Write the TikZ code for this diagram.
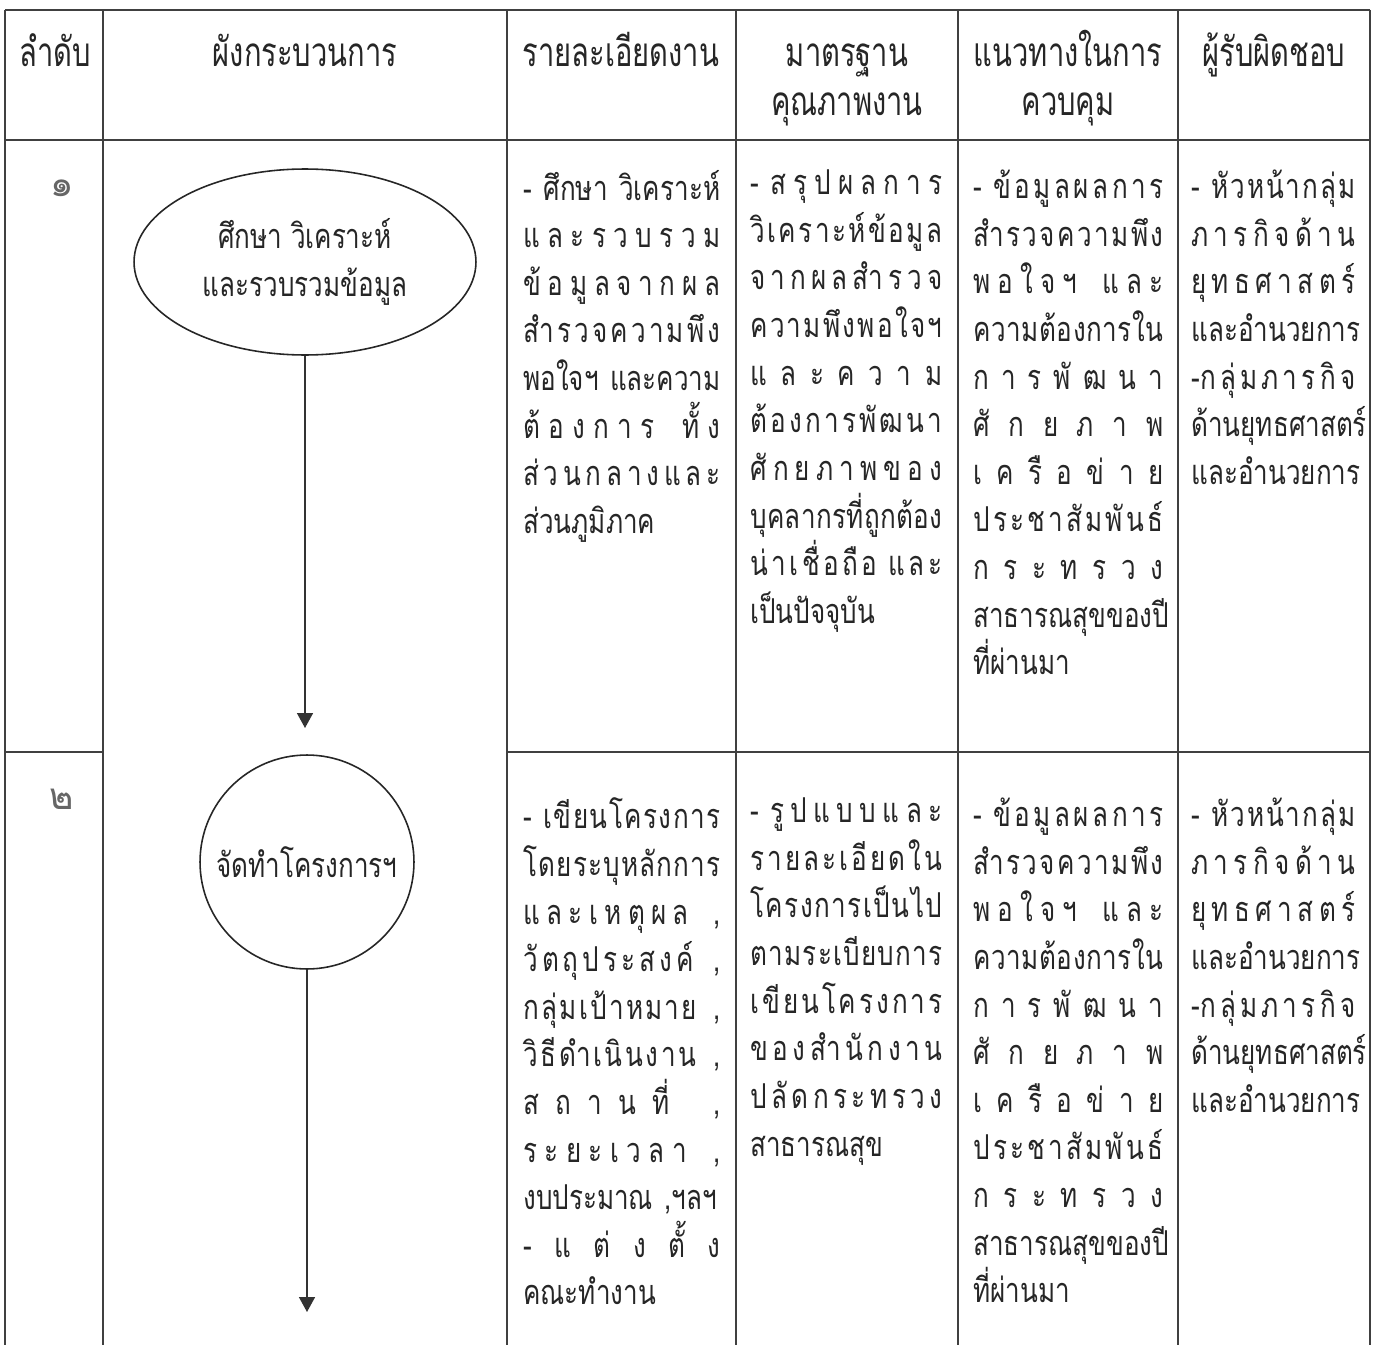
\documentclass[tikz,border=0pt]{standalone}
\usepackage{fontspec}
\usetikzlibrary{arrows.meta,shapes.geometric}
\newfontfamily\thai[Script=Thai,FakeStretch=0.76]{Loma}
\newfontfamily\thaihead[Script=Thai,FakeStretch=0.72]{Loma}
\newfontfamily\thainum[Script=Thai]{Loma}
% --- Thai distributed justification via interchar tokens ---
\newXeTeXintercharclass\ThBase
\newXeTeXintercharclass\ThMark
\count255="0E01
\loop
  \XeTeXcharclass\count255=\ThBase
  \advance\count255 by 1
\ifnum\count255<"0E5C \repeat
\XeTeXcharclass"0E31=\ThMark
\XeTeXcharclass"0E33=\ThMark
\XeTeXcharclass"0E34=\ThMark
\XeTeXcharclass"0E35=\ThMark
\XeTeXcharclass"0E36=\ThMark
\XeTeXcharclass"0E37=\ThMark
\XeTeXcharclass"0E38=\ThMark
\XeTeXcharclass"0E39=\ThMark
\XeTeXcharclass"0E3A=\ThMark
\XeTeXcharclass"0E47=\ThMark
\XeTeXcharclass"0E48=\ThMark
\XeTeXcharclass"0E49=\ThMark
\XeTeXcharclass"0E4A=\ThMark
\XeTeXcharclass"0E4B=\ThMark
\XeTeXcharclass"0E4C=\ThMark
\XeTeXcharclass"0E4D=\ThMark
\XeTeXcharclass"0E4E=\ThMark
\XeTeXinterchartoks\ThBase\ThBase={\hfil}
\XeTeXinterchartoks\ThMark\ThBase={\hfil}
\newcommand\tstrut{\rule[-8pt]{0pt}{19pt}}
\newcommand\SL[1]{\makebox[\linewidth][s]{\XeTeXinterchartokenstate=1 \tstrut#1}}
\newcommand\SP{\hfil\ \hfil}
\newcommand\bodyfont{\thai\fontsize{19.5}{27.1}\selectfont\lineskiplimit=-30pt\relax}
\newcommand\headfont{\thaihead\fontsize{23}{30}\selectfont}
\begin{document}
\begin{tikzpicture}[x=0.02cm,y=-0.02cm,
  grid/.style={draw=black!75,line width=0.9pt},
  cell/.style={anchor=north west,inner sep=0pt,yshift=19pt,font=\bodyfont,align=left,text=black!85},
  head/.style={anchor=base,inner sep=0pt,font=\headfont,text=black!85},
  num/.style={anchor=center,inner sep=0pt,font=\thainum\fontsize{21}{26}\selectfont,text=black!60},
  proc/.style={draw=black!85,line width=0.9pt,inner sep=0pt,font=\bodyfont,text=black!85,align=center},
  flow/.style={draw=black!80,line width=0.9pt,-{Triangle[width=0.32cm,length=0.3cm]}}]
\useasboundingbox (0,0) rectangle (1373,1345);
\fill[white] (0,0) rectangle (1373,1345);
% table grid
\draw[grid] (5,10) -- (1370,10);
\draw[grid] (5,140) -- (1370,140);
\draw[grid] (5,752) -- (103,752);
\draw[grid] (507,752) -- (1370,752);
\foreach \xx in {5,103,507,736,958,1178,1370}
  \draw[grid] (\xx,10) -- (\xx,1345);
% header
\node[head] (h1) at (55,67) {ลำดับ};
\node[head] (h2) at (305,67) {ผังกระบวนการ};
\node[head] (h3) at (621,67) {รายละเอียดงาน};
\node[head] (h4a) at (847,67) {มาตรฐาน};
\node[head] (h4b) at (847,115) {คุณภาพงาน};
\node[head] (h5a) at (1068,67) {แนวทางในการ};
\node[head] (h5b) at (1068,115) {ควบคุม};
\node[head] (h6) at (1274,67) {ผู้รับผิดชอบ};
% row numbers
\node[num] (n1) at (62,188) {๑};
\node[num] (n2) at (62,799) {๒};
% flow
\node[proc,ellipse,minimum width=6.84cm,minimum height=3.72cm] (p1) at (305,262) {ศึกษา วิเคราะห์\\และรวบรวมข้อมูล};
\node[proc,circle,minimum size=4.28cm] (p2) at (307,862) {จัดทำโครงการฯ};
\coordinate (t1) at (307,728);
\coordinate (t2) at (307,1312);
\draw[flow] (p1.south) -- (p1.south |- t1);
\draw[flow] (p2.south) -- (p2.south |- t2);
% row 1
\node[cell,text width=3.94cm] (r1c3) at (523,203) {%
\SL{- ศึกษา วิเคราะห์}\\
\SL{และรวบรวม}\\
\SL{ข้อมูลจากผล}\\
\SL{สำรวจความพึง}\\
\SL{พอใจฯ และความ}\\
\SL{ต้องการ\SP ทั้ง}\\
\SL{ส่วนกลางและ}\\
\tstrut ส่วนภูมิภาค};
\node[cell,text width=3.84cm] (r1c4) at (750,203) {%
\SL{- สรุปผลการ}\\
\SL{วิเคราะห์ข้อมูล}\\
\SL{จากผลสำรวจ}\\
\SL{ความพึงพอใจฯ}\\
\SL{และความ}\\
\SL{ต้องการพัฒนา}\\
\SL{ศักยภาพของ}\\
\SL{บุคลากรที่ถูกต้อง}\\
\SL{น่าเชื่อถือ และ}\\
\tstrut เป็นปัจจุบัน};
\node[cell,text width=3.80cm] (r1c5) at (973,203) {%
\SL{- ข้อมูลผลการ}\\
\SL{สำรวจความพึง}\\
\SL{พอใจฯ\SP และ}\\
\SL{ความต้องการใน}\\
\SL{การพัฒนา}\\
\SL{ศักยภาพ}\\
\SL{เครือข่าย}\\
\SL{ประชาสัมพันธ์}\\
\SL{กระทรวง}\\
\SL{สาธารณสุขของปี}\\
\tstrut ที่ผ่านมา};
\node[cell,text width=3.28cm] (r1c6) at (1191,203) {%
\SL{- หัวหน้ากลุ่ม}\\
\SL{ภารกิจด้าน}\\
\SL{ยุทธศาสตร์}\\
\tstrut และอำนวยการ\\
\SL{-กลุ่มภารกิจ}\\
\SL{ด้านยุทธศาสตร์}\\
\tstrut และอำนวยการ};
% row 2
\node[cell,text width=3.94cm] (r2c3) at (523,831) {%
\SL{- เขียนโครงการ}\\
\SL{โดยระบุหลักการ}\\
\SL{และเหตุผล\SP,}\\
\SL{วัตถุประสงค์\SP,}\\
\SL{กลุ่มเป้าหมาย\SP,}\\
\SL{วิธีดำเนินงาน\SP,}\\
\SL{สถานที่\SP,}\\
\SL{ระยะเวลา\SP,}\\
\tstrut\mbox{งบประมาณ ,ฯลฯ}\\
\SL{-\hfil แต่งตั้ง}\\
\tstrut คณะทำงาน};
\node[cell,text width=3.84cm] (r2c4) at (750,831) {%
\SL{- รูปแบบและ}\\
\SL{รายละเอียดใน}\\
\SL{โครงการเป็นไป}\\
\SL{ตามระเบียบการ}\\
\SL{เขียนโครงการ}\\
\SL{ของสำนักงาน}\\
\SL{ปลัดกระทรวง}\\
\tstrut สาธารณสุข};
\node[cell,text width=3.80cm] (r2c5) at (973,831) {%
\SL{- ข้อมูลผลการ}\\
\SL{สำรวจความพึง}\\
\SL{พอใจฯ\SP และ}\\
\SL{ความต้องการใน}\\
\SL{การพัฒนา}\\
\SL{ศักยภาพ}\\
\SL{เครือข่าย}\\
\SL{ประชาสัมพันธ์}\\
\SL{กระทรวง}\\
\SL{สาธารณสุขของปี}\\
\tstrut ที่ผ่านมา};
\node[cell,text width=3.28cm] (r2c6) at (1191,831) {%
\SL{- หัวหน้ากลุ่ม}\\
\SL{ภารกิจด้าน}\\
\SL{ยุทธศาสตร์}\\
\tstrut และอำนวยการ\\
\SL{-กลุ่มภารกิจ}\\
\SL{ด้านยุทธศาสตร์}\\
\tstrut และอำนวยการ};
\end{tikzpicture}
\end{document}
